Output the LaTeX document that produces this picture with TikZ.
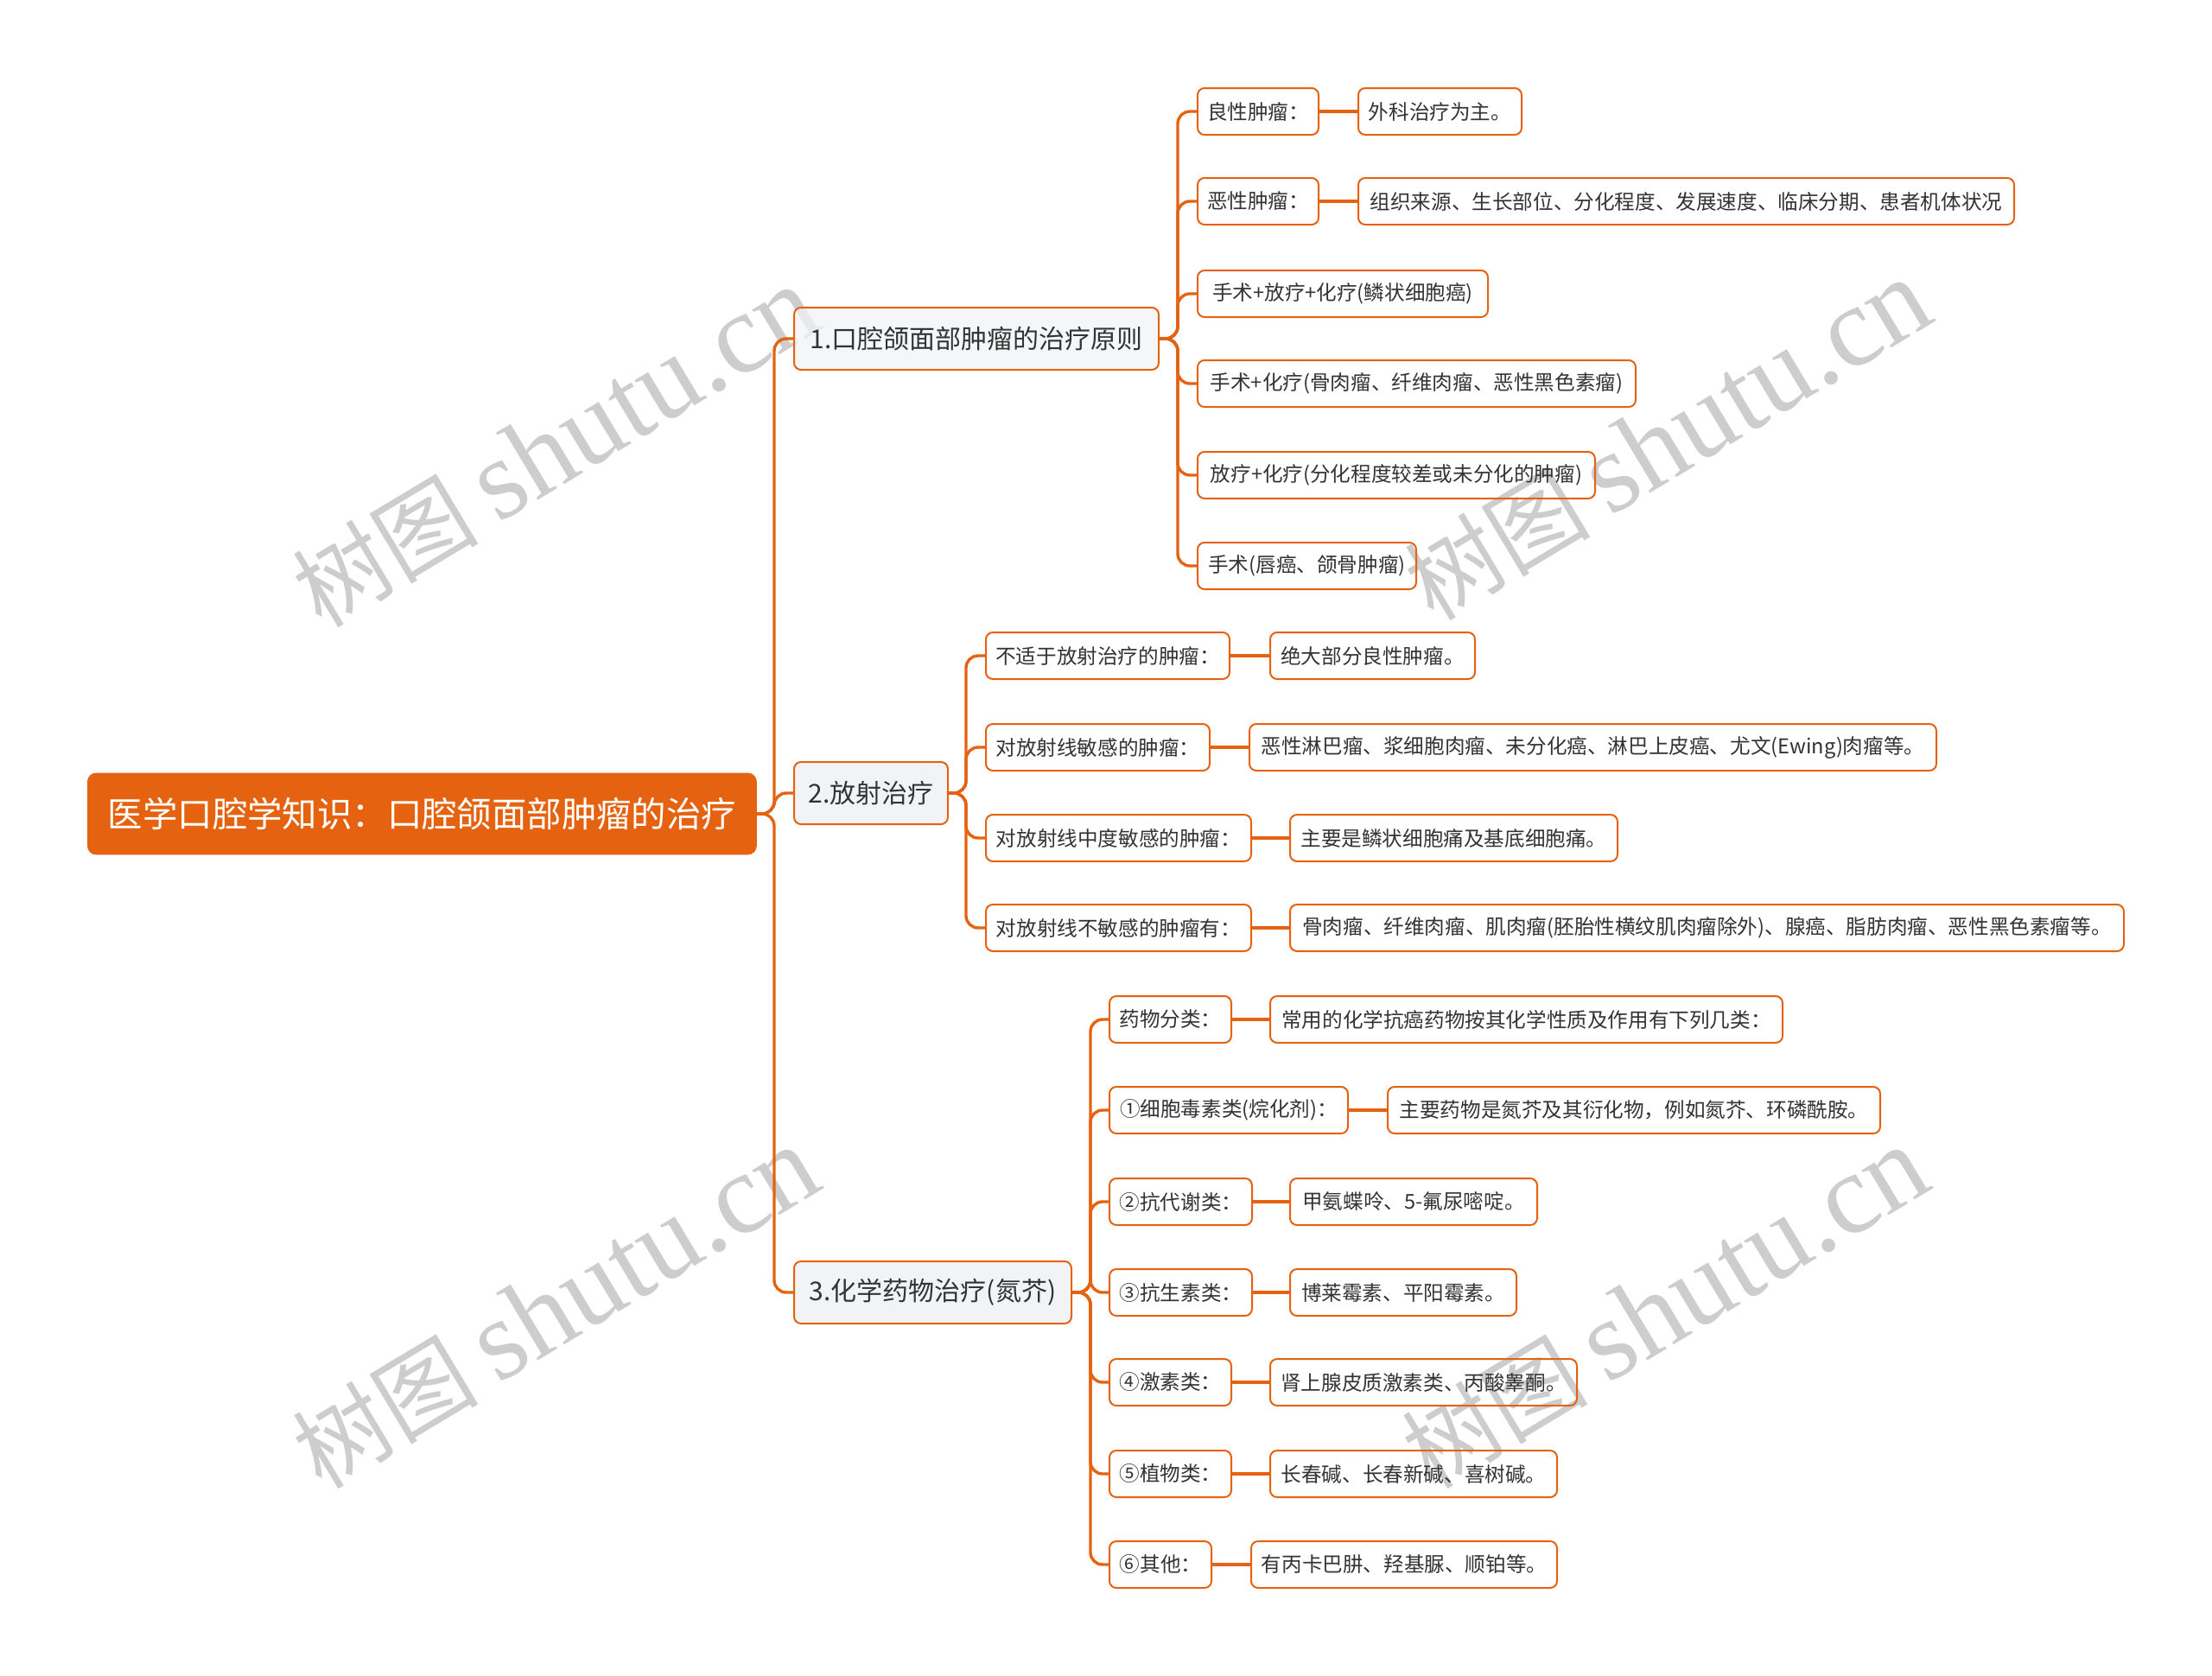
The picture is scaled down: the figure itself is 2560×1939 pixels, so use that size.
\documentclass[tikz,border=0pt]{standalone}
\usepackage{fontspec}
\newfontfamily\cjk{Noto Sans CJK SC}
\newfontfamily\wmlatin{Liberation Serif}
\definecolor{orn}{RGB}{229,98,16}
\definecolor{l1fill}{RGB}{241,243,245}
\definecolor{txt}{RGB}{51,51,51}
\definecolor{wm}{RGB}{205,205,205}
\begin{document}
\begin{tikzpicture}[x=0.5pt,y=-0.5pt,
 box/.style={draw=orn, line width=1pt, rounded corners=4pt, inner sep=0pt, anchor=west, text=txt},
 leaf/.style={box, minimum height=27pt, font=\cjk\fontsize{11.8}{14}\selectfont},
 sub/.style={box, fill=l1fill, minimum height=36pt, font=\cjk\fontsize{15}{18}\selectfont},
 rootbox/.style={draw=orn, fill=orn, rounded corners=5pt, inner sep=0pt, anchor=west, minimum height=47pt, text=white, font=\cjk\fontsize{20.2}{24}\selectfont},
 wd/.style={minimum width={#1*0.5pt}},
 bus/.style={draw=orn, line width=1.7pt, rounded corners=7pt},
 link/.style={draw=orn, line width=2pt},
 wmark/.style={text=wm, rotate=31, inner sep=0pt}
]
\useasboundingbox (0,0) rectangle (2560,1939);
\fill[white] (0,0) rectangle (2560,1939);

% watermarks (behind the diagram)
\foreach \wx/\wy [count=\i] in {643/518, 1930/510, 643/1514, 1927/1514}
  \node[wmark] (wm\i) at (\wx,\wy) {\cjk\fontsize{54}{60}\selectfont 树图\hspace{0.2em}\wmlatin\fontsize{66}{70}\selectfont shutu.cn};

% root and level 1
\node[rootbox, wd=774] (root) at (101,942) {医学口腔学知识：口腔颌面部肿瘤的治疗};
\node[sub, wd=422, fill opacity=0.75, text opacity=1] (s1) at (918,392) {1.口腔颌面部肿瘤的治疗原则};
\node[sub, wd=178] (s2) at (918,918) {2.放射治疗};
\node[sub, wd=321] (s3) at (918,1496) {3.化学药物治疗(氮芥)};

% branch 1
\node[leaf, wd=140] (a1) at (1385,129) {良性肿瘤：};
\node[leaf, wd=189] (a1v) at (1571,129) {外科治疗为主。};
\node[leaf, wd=140] (a2) at (1385,233) {恶性肿瘤：};
\node[leaf, wd=759] (a2v) at (1571,233) {组织来源、生长部位、分化程度、发展速度、临床分期、患者机体状况};
\node[leaf, wd=336] (a3) at (1385,340) {手术+放疗+化疗(鳞状细胞癌)};
\node[leaf, wd=507] (a4) at (1385,444) {手术+化疗(骨肉瘤、纤维肉瘤、恶性黑色素瘤)};
\node[leaf, wd=460] (a5) at (1385,550) {放疗+化疗(分化程度较差或未分化的肿瘤)};
\node[leaf, wd=253] (a6) at (1385,655) {手术(唇癌、颌骨肿瘤)};

% branch 2
\node[leaf, wd=282] (b1) at (1140,759) {不适于放射治疗的肿瘤：};
\node[leaf, wd=237] (b1v) at (1469,759) {绝大部分良性肿瘤。};
\node[leaf, wd=259] (b2) at (1140,865) {对放射线敏感的肿瘤：};
\node[leaf, wd=795] (b2v) at (1445,865) {恶性淋巴瘤、浆细胞肉瘤、未分化癌、淋巴上皮癌、尤文(Ewing)肉瘤等。};
\node[leaf, wd=307] (b3) at (1140,970) {对放射线中度敏感的肿瘤：};
\node[leaf, wd=379] (b3v) at (1492,970) {主要是鳞状细胞痛及基底细胞痛。};
\node[leaf, wd=307] (b4) at (1140,1074) {对放射线不敏感的肿瘤有：};
\node[leaf, wd=965] (b4v) at (1492,1074) {骨肉瘤、纤维肉瘤、肌肉瘤(胚胎性横纹肌肉瘤除外)、腺癌、脂肪肉瘤、恶性黑色素瘤等。};

% branch 3
\node[leaf, wd=141] (c1) at (1283,1180) {药物分类：};
\node[leaf, wd=593] (c1v) at (1469,1180) {常用的化学抗癌药物按其化学性质及作用有下列几类：};
\node[leaf, wd=276] (c2) at (1283,1285) {①细胞毒素类(烷化剂)：};
\node[leaf, wd=570] (c2v) at (1605,1285) {主要药物是氮芥及其衍化物，例如氮芥、环磷酰胺。};
\node[leaf, wd=165] (c3) at (1283,1391) {②抗代谢类：};
\node[leaf, wd=286] (c3v) at (1492,1391) {甲氨蝶呤、5-氟尿嘧啶。};
\node[leaf, wd=165] (c4) at (1283,1496) {③抗生素类：};
\node[leaf, wd=262] (c4v) at (1492,1496) {博莱霉素、平阳霉素。};
\node[leaf, wd=141] (c5) at (1283,1600) {④激素类：};
\node[leaf, wd=355] (c5v) at (1469,1600) {肾上腺皮质激素类、丙酸睾酮。};
\node[leaf, wd=141] (c6) at (1283,1706) {⑤植物类：};
\node[leaf, wd=332] (c6v) at (1469,1706) {长春碱、长春新碱、喜树碱。};
\node[leaf, wd=118] (c7) at (1283,1811) {⑥其他：};
\node[leaf, wd=354] (c7v) at (1447,1811) {有丙卡巴肼、羟基脲、顺铂等。};

% connectors: root to level 1
\foreach \t in {s1,s2,s3}
  \draw[bus] (root.east) -- (896,942) |- (\t.west);
% level 1 to children
\foreach \t in {a1,a2,a3,a4,a5,a6}
  \draw[bus] (s1.east) -- (1363,392) |- (\t.west);
\foreach \t in {b1,b2,b3,b4}
  \draw[bus] (s2.east) -- (1118,918) |- (\t.west);
\foreach \t in {c1,c2,c3,c4,c5,c6,c7}
  \draw[bus] (s3.east) -- (1262,1496) |- (\t.west);
% leaf to value
\foreach \p in {a1,a2,b1,b2,b3,b4,c1,c2,c3,c4,c5,c6,c7}
  \draw[link] (\p.east) -- (\p v.west);
\end{tikzpicture}
\end{document}
